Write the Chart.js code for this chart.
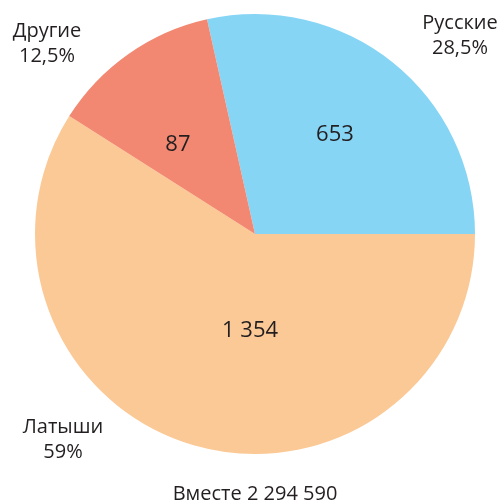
<!DOCTYPE html>
<html>
<head>
<meta charset="utf-8">
<script src="https://cdn.jsdelivr.net/npm/chart.js@4"></script>
<style>
  html, body { margin: 0; padding: 0; background: #ffffff; }
  #wrap { width: 502px; height: 501px; position: relative; }
</style>
</head>
<body>
<div id="wrap"><canvas id="chart" width="502" height="501"></canvas></div>
<script>
// Population by nationality
const categories = ['Русские', 'Латыши', 'Другие'];
const shares = [28.5, 59, 12.5];
const shareLabels = ['28,5%', '59%', '12,5%'];
const countLabels = ['653', '1 354', '87'];
const totalLabel = 'Вместе 2 294 590';

const colors = ['#87d5f5', '#fbc996', '#f38872'];
const textColor = '#231f20';
const fontFamily = '"Open Sans", "Noto Sans", sans-serif';

// Where each count sits inside its slice: angle (deg, clockwise from top) and radius fraction
const countPlacement = [
  { angle: 38.9, r: 0.579 },
  { angle: 182.9, r: 0.441 },
  { angle: 319.1, r: 0.535 }
];
// Outer captions: centre x and baseline y of the first line
const captionPlacement = [
  { x: 460, y: 29 },
  { x: 63, y: 433 },
  { x: 47, y: 37 }
];

const labelPlugin = {
  id: 'pieLabels',
  afterDraw(chart) {
    const ctx = chart.ctx;
    const arcs = chart.getDatasetMeta(0).data;
    if (!arcs.length) return;
    const cx = arcs[0].x, cy = arcs[0].y, R = arcs[0].outerRadius;
    ctx.save();
    ctx.fillStyle = textColor;
    ctx.textAlign = 'center';

    ctx.font = '22px ' + fontFamily;
    ctx.textBaseline = 'middle';
    countLabels.forEach((t, i) => {
      const p = countPlacement[i];
      const a = p.angle * Math.PI / 180;
      ctx.fillText(t, cx + Math.sin(a) * p.r * R, cy - Math.cos(a) * p.r * R);
    });

    ctx.font = '20px ' + fontFamily;
    ctx.textBaseline = 'alphabetic';
    categories.forEach((name, i) => {
      const p = captionPlacement[i];
      ctx.fillText(name, p.x, p.y);
      ctx.fillText(shareLabels[i], p.x, p.y + 25);
    });

    ctx.fillText(totalLabel, cx, 500);
    ctx.restore();
  }
};

new Chart(document.getElementById('chart'), {
  type: 'pie',
  data: {
    labels: categories,
    datasets: [{
      data: shares,
      backgroundColor: colors,
      borderWidth: 0,
      hoverOffset: 0
    }]
  },
  options: {
    responsive: false,
    animation: false,
    rotation: 90 - shares[0] * 3.6,
    layout: { padding: { left: 35, right: 27, top: 14, bottom: 47 } },
    plugins: {
      legend: { display: false },
      tooltip: { enabled: false }
    },
    events: []
  },
  plugins: [labelPlugin]
});
</script>
</body>
</html>
